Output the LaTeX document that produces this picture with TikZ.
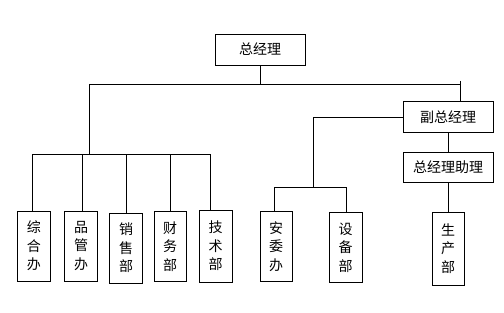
\documentclass[tikz,border=0pt]{standalone}
\usepackage{fontspec}
\newfontfamily\cjk{Noto Sans CJK SC}
\usetikzlibrary{positioning}

\begin{document}
\begin{tikzpicture}[
      x=1pt, y=-1pt, line width=0.8pt,
      box/.style={rectangle, draw, inner sep=0pt, font=\cjk\fontsize{14}{18.5}\selectfont},
      hbox/.style={box, minimum width=90pt, minimum height=31pt},
      vbox/.style={box, minimum width=33pt, minimum height=70pt, align=center}
    ]
      \useasboundingbox (0,0) rectangle (504,313);
      % top level
      \node[hbox] (zjl) at (260,49.5) {总经理};
      \node[hbox] (fzjl) at (448,117) {副总经理};
      \node[hbox, minimum height=30pt] (zlzl) at (448,167) {总经理助理};
      % departments
      \node[vbox] (zhb) at (34,246) {综\\合\\办};
      \node[vbox] (pgb) at (81,246) {品\\管\\办};
      \node[vbox] (xsb) at (126,248) {销\\售\\部};
      \node[vbox, minimum width=32pt] (cwb) at (170,246.5) {财\\务\\部};
      \node[vbox, minimum height=72pt] (jsb) at (215.5,246) {技\\术\\部};
      \node[vbox, minimum width=32pt] (awb) at (276,246.5) {安\\委\\办};
      \node[vbox] (sbb) at (345.5,247.5) {设\\备\\部};
      \node[vbox, minimum width=32pt, minimum height=73pt] (scb) at (448,248.5) {生\\产\\部};
      % junctions
      \coordinate (b1) at (89,84);
      \coordinate (b2) at (460,84);
      \coordinate (l1) at (32,154);
      \coordinate (l2) at (210,154);
      \coordinate (r1) at (274,187);
      \coordinate (r2) at (346,187);
      % connectors
      \draw (zjl.south) -- (zjl.south |- b1);
      \draw (b1) -- (b2);
      \draw (460,81) -- (460,0 |- fzjl.north);
      \draw (b1) -- (b1 |- l1);
      \draw (l1) -- (l2);
      \foreach \n/\x in {zhb/32, pgb/82, xsb/126, cwb/170, jsb/210}
        \draw (\x,154) -- (\x,0 |- \n.north);
      \draw (fzjl.west) -- (313,117) -- (313,187);
      \draw (r1) -- (r2);
      \draw (r1) -- (r1 |- awb.north);
      \draw (r2) -- (r2 |- sbb.north);
      \draw (fzjl.south) -- (zlzl.north);
      \draw (zlzl.south) -- (scb.north);
    \end{tikzpicture}
\end{document}
